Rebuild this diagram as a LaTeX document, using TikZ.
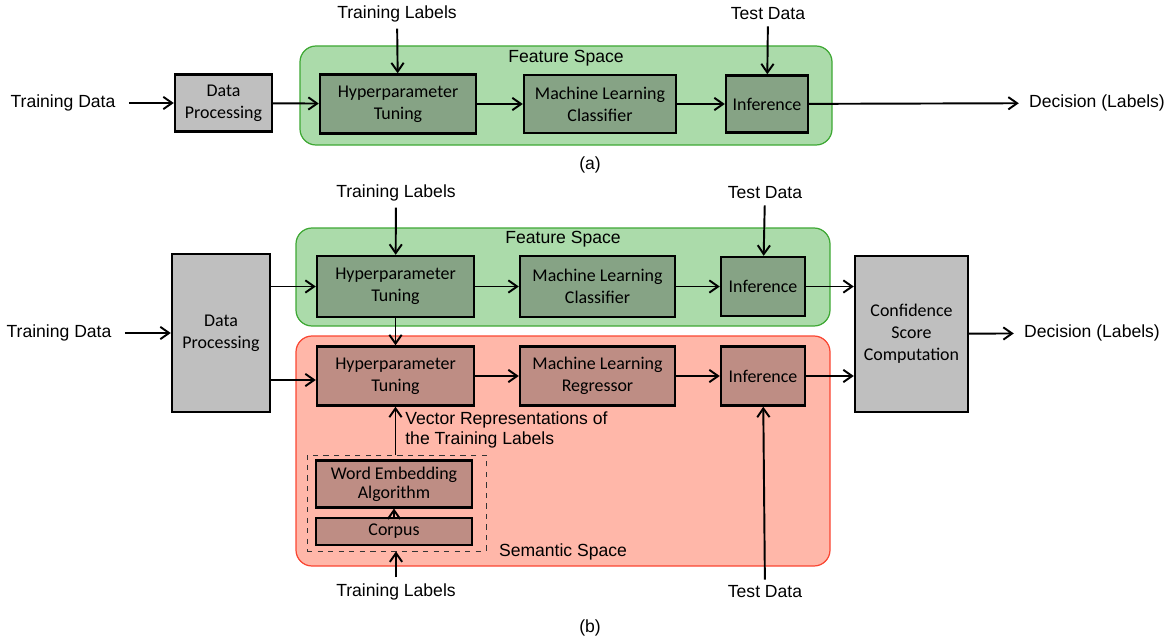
\documentclass[tikz,border=0pt]{standalone}
\usepackage{fontspec}
\setmainfont{Liberation Sans}
\newfontfamily\boxfont{Carlito}
\usepackage{tikz}
\usetikzlibrary{arrows.meta,positioning}
\definecolor{featfill}{RGB}{171,219,170}
\definecolor{featline}{RGB}{62,168,52}
\definecolor{featbox}{RGB}{134,163,133}
\definecolor{semfill}{RGB}{255,183,169}
\definecolor{semline}{RGB}{250,70,50}
\definecolor{sembox}{RGB}{190,141,132}
\definecolor{procfill}{RGB}{191,191,191}

\begin{document}
\begin{tikzpicture}[x=0.02cm, y=-0.02cm, font=\fontsize{10}{12}\selectfont]
      \tikzstyle{arrow} = [line width=1.1pt, -{Straight Barb[length=5pt,width=7pt,line width=1.1pt]}]
      \tikzstyle{label} = [inner xsep=0.26cm, inner ysep=0.12cm]
      \tikzstyle{proc} = [rectangle, draw=black, line width=1.4pt, fill=procfill, align=center, font=\boxfont\fontsize{10.2}{12.5}\selectfont]
      \tikzstyle{feat} = [proc, fill=featbox]
      \tikzstyle{sem} = [proc, fill=sembox]
      \tikzstyle{space} = [rounded corners=0.32cm, line width=0.7pt]

      \useasboundingbox (0,0) rectangle (1173,642);

      % (a)
      \path[space, fill=featfill, draw=featline] (300,46) rectangle (832,145);
      \node (fsA) at (566,58) {Feature Space};
      \node (tdA) [label] at (63,103) {Training Data};
      \node (tlA) [label] at (397,14) {Training Labels};
      \node (tdtA) [label] at (768,14) {Test Data};
      \node (decA) [label, inner xsep=0.2cm] at (1097,103) {Decision (Labels)};
      \node (dpA) [proc, minimum width=1.94cm, minimum height=1.14cm] at (223.5,103) {Data\\Processing};
      \node (hypA) [feat, minimum width=3.12cm, minimum height=1.18cm] at (398,104) {Hyperparameter\\Tuning};
      \node (mlcA) [feat, minimum width=3.04cm, minimum height=1.16cm] at (600,104) {Machine Learning\\Classifier};
      \node (infA) [feat, minimum width=1.64cm, minimum height=1.14cm] at (767,104) {Inference};
      \draw [arrow] (tdA) -- (dpA);
      \draw [arrow] (dpA) -- (hypA);
      \draw [arrow] (hypA) -- (mlcA);
      \draw [arrow] (mlcA) -- (infA);
      \draw [arrow] (infA) -- (decA);
      \draw [arrow] (tlA) -- (hypA);
      \draw [arrow] (tdtA) -- (infA);
      \node (capA) at (590,165) {(a)};

      % (b)
      \path[space, fill=featfill, draw=featline] (296,228) rectangle (830,326);
      \path[space, fill=semfill, draw=semline] (296,336) rectangle (830,566);
      \node (fsB) at (563,239) {Feature Space};
      \node (ssB) at (563,552) {Semantic Space};
      \node (tdB) [label] at (59,333) {Training Data};
      \node (tlB) [label] at (396,193) {Training Labels};
      \node (tdtB) [label] at (765,193) {Test Data};
      \node (tlS) [label] at (396,592) {Training Labels};
      \node (tdtS) [label] at (765,592) {Test Data};
      \node (decB) [label, inner xsep=0.2cm] at (1092,333) {Decision (Labels)};

      \node (dpB) [proc, minimum width=1.96cm, minimum height=3.16cm] at (221,333) {Data\\Processing};
      \node (confB) [proc, minimum width=2.26cm, minimum height=3.12cm] at (911.5,334) {Confidence\\Score\\Computation};
      \node (hypB) [feat, minimum width=3.14cm, minimum height=1.22cm] at (395.5,286.5) {Hyperparameter\\Tuning};
      \node (mlcB) [feat, minimum width=3.1cm, minimum height=1.22cm] at (597.5,286.5) {Machine Learning\\Classifier};
      \node (infB) [feat, minimum width=1.68cm, minimum height=1.18cm] at (763,286.5) {Inference};
      \node (hypS) [sem, minimum width=3.14cm, minimum height=1.18cm] at (395.5,376) {Hyperparameter\\Tuning};
      \node (mlrS) [sem, minimum width=3.1cm, minimum height=1.18cm] at (597.5,376) {Machine Learning\\Regressor};
      \node (infS) [sem, minimum width=1.68cm, minimum height=1.18cm] at (763,376) {Inference};

      \node (embBox) [draw=black!80, dashed, line width=0.5pt, minimum width=3.58cm, minimum height=1.92cm] at (396.5,503) {};
      \node (weB) [sem, minimum width=3.12cm, minimum height=0.84cm, font=\boxfont\fontsize{10.2}{11}\selectfont] at (394,484) {Word Embedding\\Algorithm};
      \node (corB) [sem, minimum width=3.12cm, minimum height=0.54cm] at (394,531.5) {Corpus};
      \node (vecLbl) [anchor=west, align=left, inner sep=0pt, font=\fontsize{10}{11.5}\selectfont] at (405,430) {Vector Representations of\\the Training Labels};

      \draw [arrow] (tdB) -- (dpB);
      \draw [arrow] (dpB.east |- hypB) -- (hypB);
      \draw [arrow] (dpB.east |- 0,380) -- (hypS.west |- 0,380);
      \draw [arrow] (hypB) -- (mlcB);
      \draw [arrow] (mlcB) -- (infB);
      \draw [arrow] (hypS) -- (mlrS);
      \draw [arrow] (mlrS) -- (infS);
      \draw [arrow] (infB) -- (infB -| confB.west);
      \draw [arrow] (infS) -- (infS -| confB.west);
      \draw [arrow] (confB) -- (decB);
      \draw [arrow] (tlB) -- (hypB);
      \draw [arrow] (tdtB) -- (infB);
      \draw [arrow] (hypB) -- (hypS);
      \draw [arrow] (embBox.north -| hypS) -- (hypS);
      \draw [arrow] (corB) -- (weB);
      \draw [arrow] (tlS) -- (tlS |- embBox.south);
      \draw [arrow] (tdtS) -- (infS);
      \node (capB) at (590,628) {(b)};
\end{tikzpicture}
\end{document}
